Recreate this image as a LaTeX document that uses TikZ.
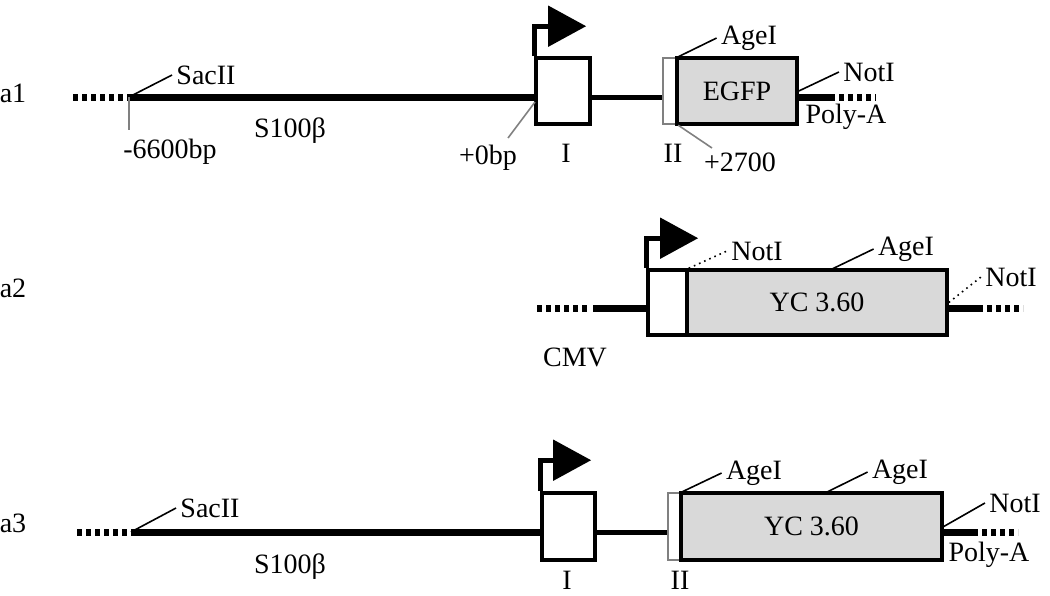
\documentclass[tikz,border=0pt]{standalone}
\usepackage{fontspec}
\setmainfont{Liberation Serif}
\usetikzlibrary{arrows.meta}

\tikzset{
  dna/.style={line width=3.5pt},
  dnaend/.style={line width=3.5pt, dash pattern=on 2.5pt off 2pt},
  intron/.style={line width=2.5pt},
  exon/.style={draw, line width=1.8pt, fill=white, inner sep=0pt},
  smallexon/.style={draw=gray, line width=1.2pt, fill=white, inner sep=0pt},
  gene/.style={draw, line width=1.8pt, fill=black!15, inner sep=0pt, font=\fontsize{14}{16}\selectfont},
  lbl/.style={font=\fontsize{14}{16}\selectfont, inner sep=2pt},
  leader/.style={line width=0.8pt},
  graytick/.style={line width=0.8pt, draw=gray},
  promoter/.style={line width=2.5pt, -{Triangle[length=19pt,width=20pt]}},
}

\begin{document}
\begin{tikzpicture}[x=0.5pt, y=-0.5pt]
  \useasboundingbox (0,0) rectangle (1050,595);

  % a1
  \node[lbl] (rowa) at (13,93) {a1};
  \coordinate (a1start) at (73,97);
  \coordinate (sacA) at (129,97);
  \coordinate (tickA) at (129,130);
  \node[exon, minimum width=27pt, minimum height=33pt] (exIa) at (563,91) {};
  \node[smallexon, minimum width=7pt, minimum height=33pt] (exIIa) at (670,91) {};
  \node[gene, minimum width=60pt, minimum height=33pt] (egfp) at (737,91) {EGFP};
  \coordinate (pA) at (835,97);
  \coordinate (a1end) at (876,97);

  \draw[dnaend] (a1start) -- (sacA);
  \draw[dna] (sacA) -- (sacA -| exIa.west);
  \draw[intron] (exIa.east |- sacA) -- (exIIa.west |- sacA);
  \draw[dna] (egfp.east |- sacA) -- (pA);
  \draw[dnaend, dash phase=2.5pt] (pA) -- (a1end);
  \draw[promoter] (exIa.north west) -- ++(0,-30) -- ++(52,0);

  \node[lbl] (sacIIa) at (206,75) {SacII};
  \draw[leader] (sacA) -- (sacIIa.west);
  \draw[graytick] (sacA) -- (tickA);
  \node[lbl] (bpA) at (170,152) {-6600bp};
  \node[lbl] (s100a) at (290,131) {S100β};
  \node[lbl] (zeroA) at (488,158) {+0bp};
  \coordinate (zeroSite) at (535,102);
  \coordinate (zeroTip) at (508,138);
  \draw[graytick] (zeroSite) -- (zeroTip);
  \node[lbl] (exIlabA) at (566,153) {I};
  \node[lbl] (exIIlabA) at (673,153) {II};
  \node[lbl] (ageA) at (749,38) {AgeI};
  \draw[leader] (exIIa.north east) -- (ageA.west);
  \node[lbl] (p2700) at (740,162) {+2700};
  \coordinate (p2700tip) at (712,148);
  \draw[graytick] (exIIa.south east) -- (p2700tip);
  \node[lbl] (notA) at (869,72) {NotI};
  \draw[leader] (egfp.east) -- (notA.west);
  \node[lbl] (polyA) at (846,117) {Poly-A};

  % a2
  \node[lbl] (rowb) at (13,288) {a2};
  \coordinate (b2start) at (537,308);
  \coordinate (cmvdot) at (590,308);
  \node[exon, minimum width=19.5pt, minimum height=32.5pt] (cmv) at (667.5,302.5) {};
  \node[gene, minimum width=130pt, minimum height=32.5pt] (ycb) at (817,302.5) {YC 3.60};
  \coordinate (b2pa) at (983,308);
  \coordinate (b2end) at (1023,308);

  \draw[dnaend] (b2start) -- (cmvdot);
  \draw[dna] (cmvdot) ++(3,0) -- (cmvdot -| cmv.west);
  \draw[dna] (ycb.east |- b2pa) -- (b2pa);
  \draw[dnaend, dash phase=2.5pt] (b2pa) -- (b2end);
  \draw[promoter] (cmv.north west) -- ++(0,-30) -- ++(52,0);

  \node[lbl] (notB) at (757,251) {NotI};
  \draw[leader, dotted] (cmv.north east) -- (notB.west);
  \node[lbl] (ageB) at (906,249) {AgeI};
  \coordinate (ageBsite) at (830,270);
  \draw[leader] (ageBsite) -- (ageB.west);
  \node[lbl] (notBr) at (1011,277) {NotI};
  \draw[leader, dotted] (ycb.east) -- (notBr.west);
  \node[lbl] (cmvlab) at (575,357) {CMV};

  % a3
  \node[lbl] (rowc) at (13,523) {a3};
  \coordinate (c3start) at (77,532);
  \coordinate (sacC) at (131,532);
  \node[exon, minimum width=26.5pt, minimum height=33.5pt] (exIc) at (568.5,526.5) {};
  \node[smallexon, minimum width=6.5pt, minimum height=33.5pt] (exIIc) at (674.5,526.5) {};
  \node[gene, minimum width=130.5pt, minimum height=33.5pt] (ycc) at (811.5,526.5) {YC 3.60};
  \coordinate (c3pa) at (978,532);
  \coordinate (c3end) at (1018,532);

  \draw[dnaend] (c3start) -- (sacC);
  \draw[dna] (sacC) -- (sacC -| exIc.west);
  \draw[intron] (exIc.east |- sacC) -- (exIIc.west |- sacC);
  \draw[dna] (ycc.east |- c3pa) -- (c3pa);
  \draw[dnaend, dash phase=2.5pt] (c3pa) -- (c3end);
  \draw[promoter] (exIc.north west) -- ++(0,-31) -- ++(51,0);

  \node[lbl] (sacIIc) at (210,508) {SacII};
  \draw[leader] (sacC) -- (sacIIc.west);
  \node[lbl] (s100c) at (290,567) {S100β};
  \node[lbl] (exIlabC) at (567,580) {I};
  \node[lbl] (exIIlabC) at (680,580) {II};
  \node[lbl] (agec1) at (754,473) {AgeI};
  \draw[leader] (exIIc.north east) -- (agec1.west);
  \node[lbl] (agec2) at (900,472) {AgeI};
  \coordinate (agec2site) at (825,493);
  \draw[leader] (agec2site) -- (agec2.west);
  \node[lbl] (notC) at (1015,503) {NotI};
  \draw[leader] (ycc.east) -- (notC.west);
  \node[lbl] (polyC) at (989,555) {Poly-A};
\end{tikzpicture}
\end{document}
